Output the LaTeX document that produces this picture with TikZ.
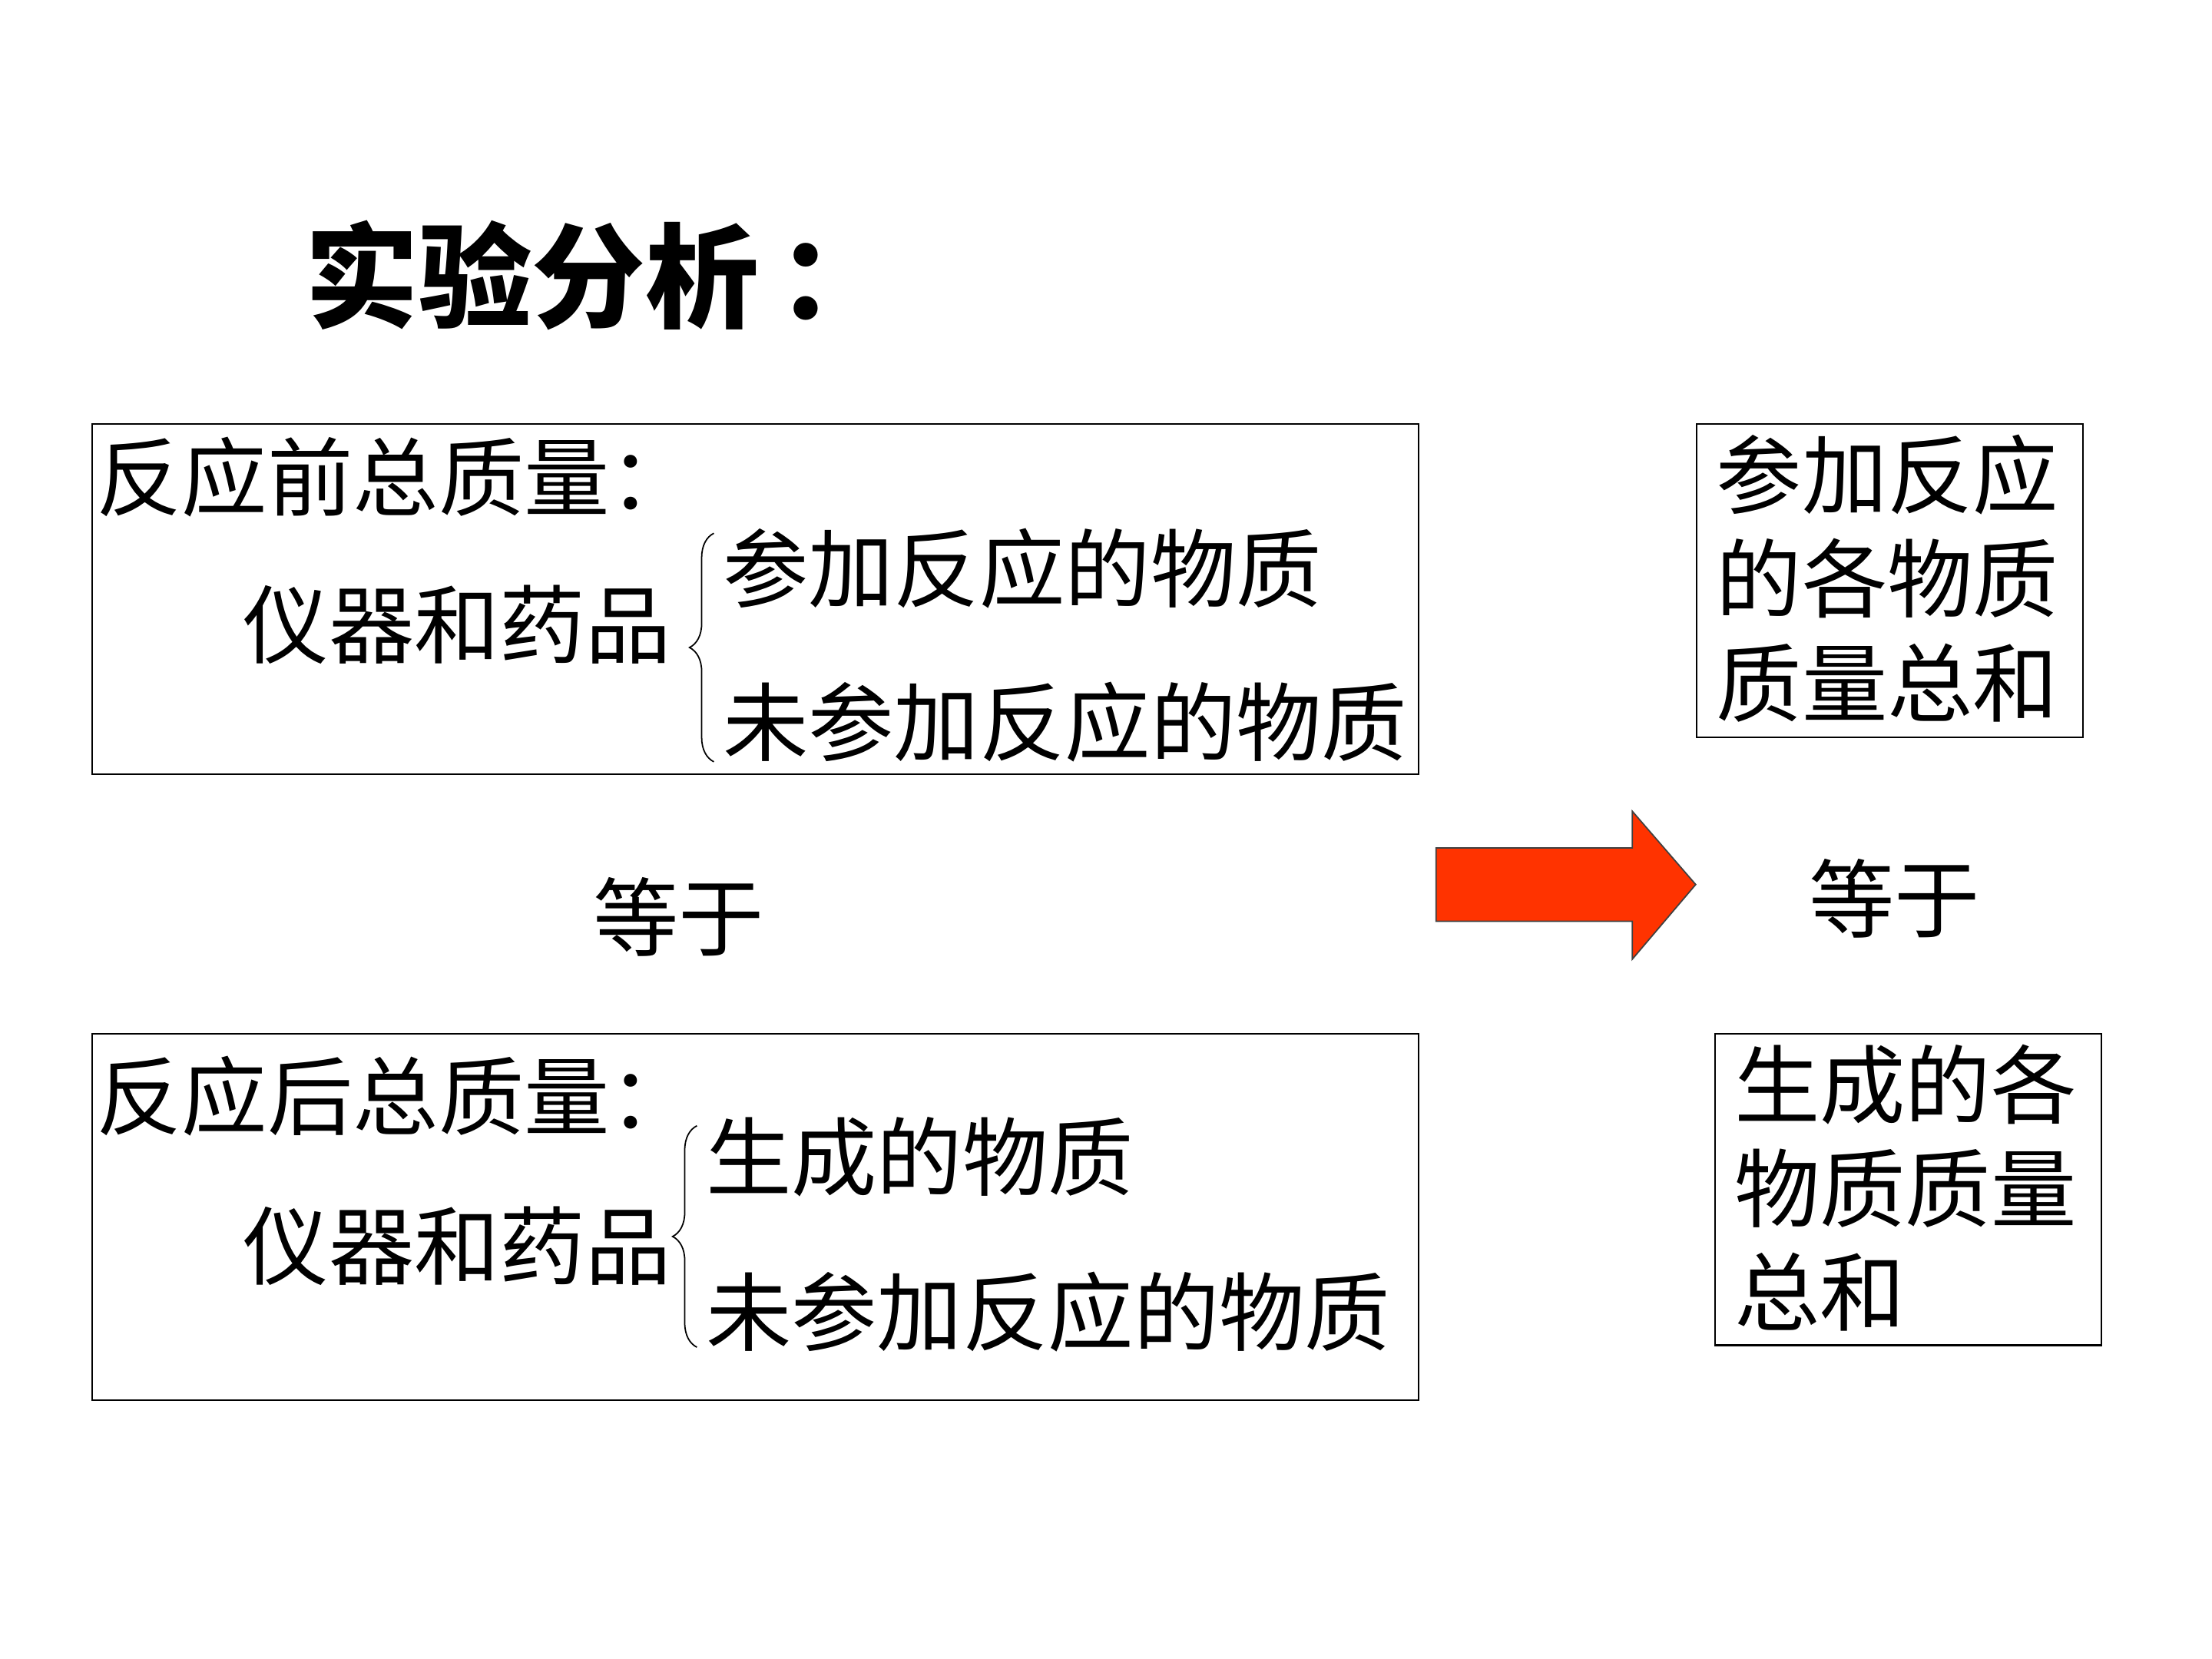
\documentclass[tikz,border=0pt]{standalone}
\usepackage{fontspec}
\newfontfamily\cjk{Noto Sans CJK SC}
\usetikzlibrary{decorations.pathreplacing}
\definecolor{arrowred}{HTML}{FF3300}
\begin{document}
\begin{tikzpicture}[x=0.018367cm,y=-0.018367cm]\tikzset{txt/.style = {inner sep=0pt, font=\cjk\fontsize{31.7}{38.5}\selectfont},
	box/.style = {draw, line width=0.6pt, anchor=north west, inner sep=0pt},
	brc/.style = {line width=0.5pt, decorate, decoration={brace, amplitude=9pt, aspect=0.5}}}

		\useasboundingbox[fill=white] (0,0) rectangle (1568,1176);

		\node[inner sep=0pt, anchor=west, font=\cjk\bfseries\fontsize{42}{42}\selectfont] (title) at (216,195) {实验分析\,：};

		% left boxes
		\node[box, minimum width=940*0.018367cm, minimum height=248*0.018367cm] (B_1) at (65,300) {};
		\node[box, minimum width=940*0.018367cm, minimum height=260*0.018367cm] (B_2) at (65,732) {};

		\node[txt, anchor=west] (T_1) at (68,338) {反应前总质量：};
		\node[txt, anchor=west] (T_2) at (172,443) {仪器和药品};
		\node[txt, anchor=west] (T_3) at (512,403) {参加反应的物质};
		\node[txt, anchor=west] (T_4) at (512,512) {未参加反应的物质};

		\node[txt, anchor=west] (T_5) at (68,777) {反应后总质量：};
		\node[txt, anchor=west] (T_6) at (172,883) {仪器和药品};
		\node[txt, anchor=west] (T_7) at (500,820) {生成的物质};
		\node[txt, anchor=west] (T_8) at (500,930) {未参加反应的物质};

		\coordinate (C_1) at (506,540);
		\coordinate (C_2) at (506,378);
		\coordinate (C_3) at (494,955);
		\coordinate (C_4) at (494,798);
		\draw[brc] (C_1) -- (C_2);
		\draw[brc] (C_3) -- (C_4);

		\node[txt] (E_1) at (481,650) {等于};

		% arrow
		\filldraw[fill=arrowred, draw=black!75, line width=0.5pt] (1018,601) -- (1157,601) -- (1157,575) -- (1202,627) -- (1157,680) -- (1157,653) -- (1018,653) -- cycle;

		% right boxes
		\node[box, minimum width=274*0.018367cm, minimum height=222*0.018367cm] (B_3) at (1202,300) {};
		\node[box, minimum width=274*0.018367cm, minimum height=221*0.018367cm] (B_4) at (1215,732) {};

		\node[txt, align=left] (R_1) at (1338,410) {参加反应\\的各物质\\质量总和};
		\node[txt] (E_2) at (1343,637) {等于};
		\node[txt, align=left, anchor=west] (R_2) at (1229,842) {生成的各\\物质质量\\总和};
	\end{tikzpicture}
\end{document}
